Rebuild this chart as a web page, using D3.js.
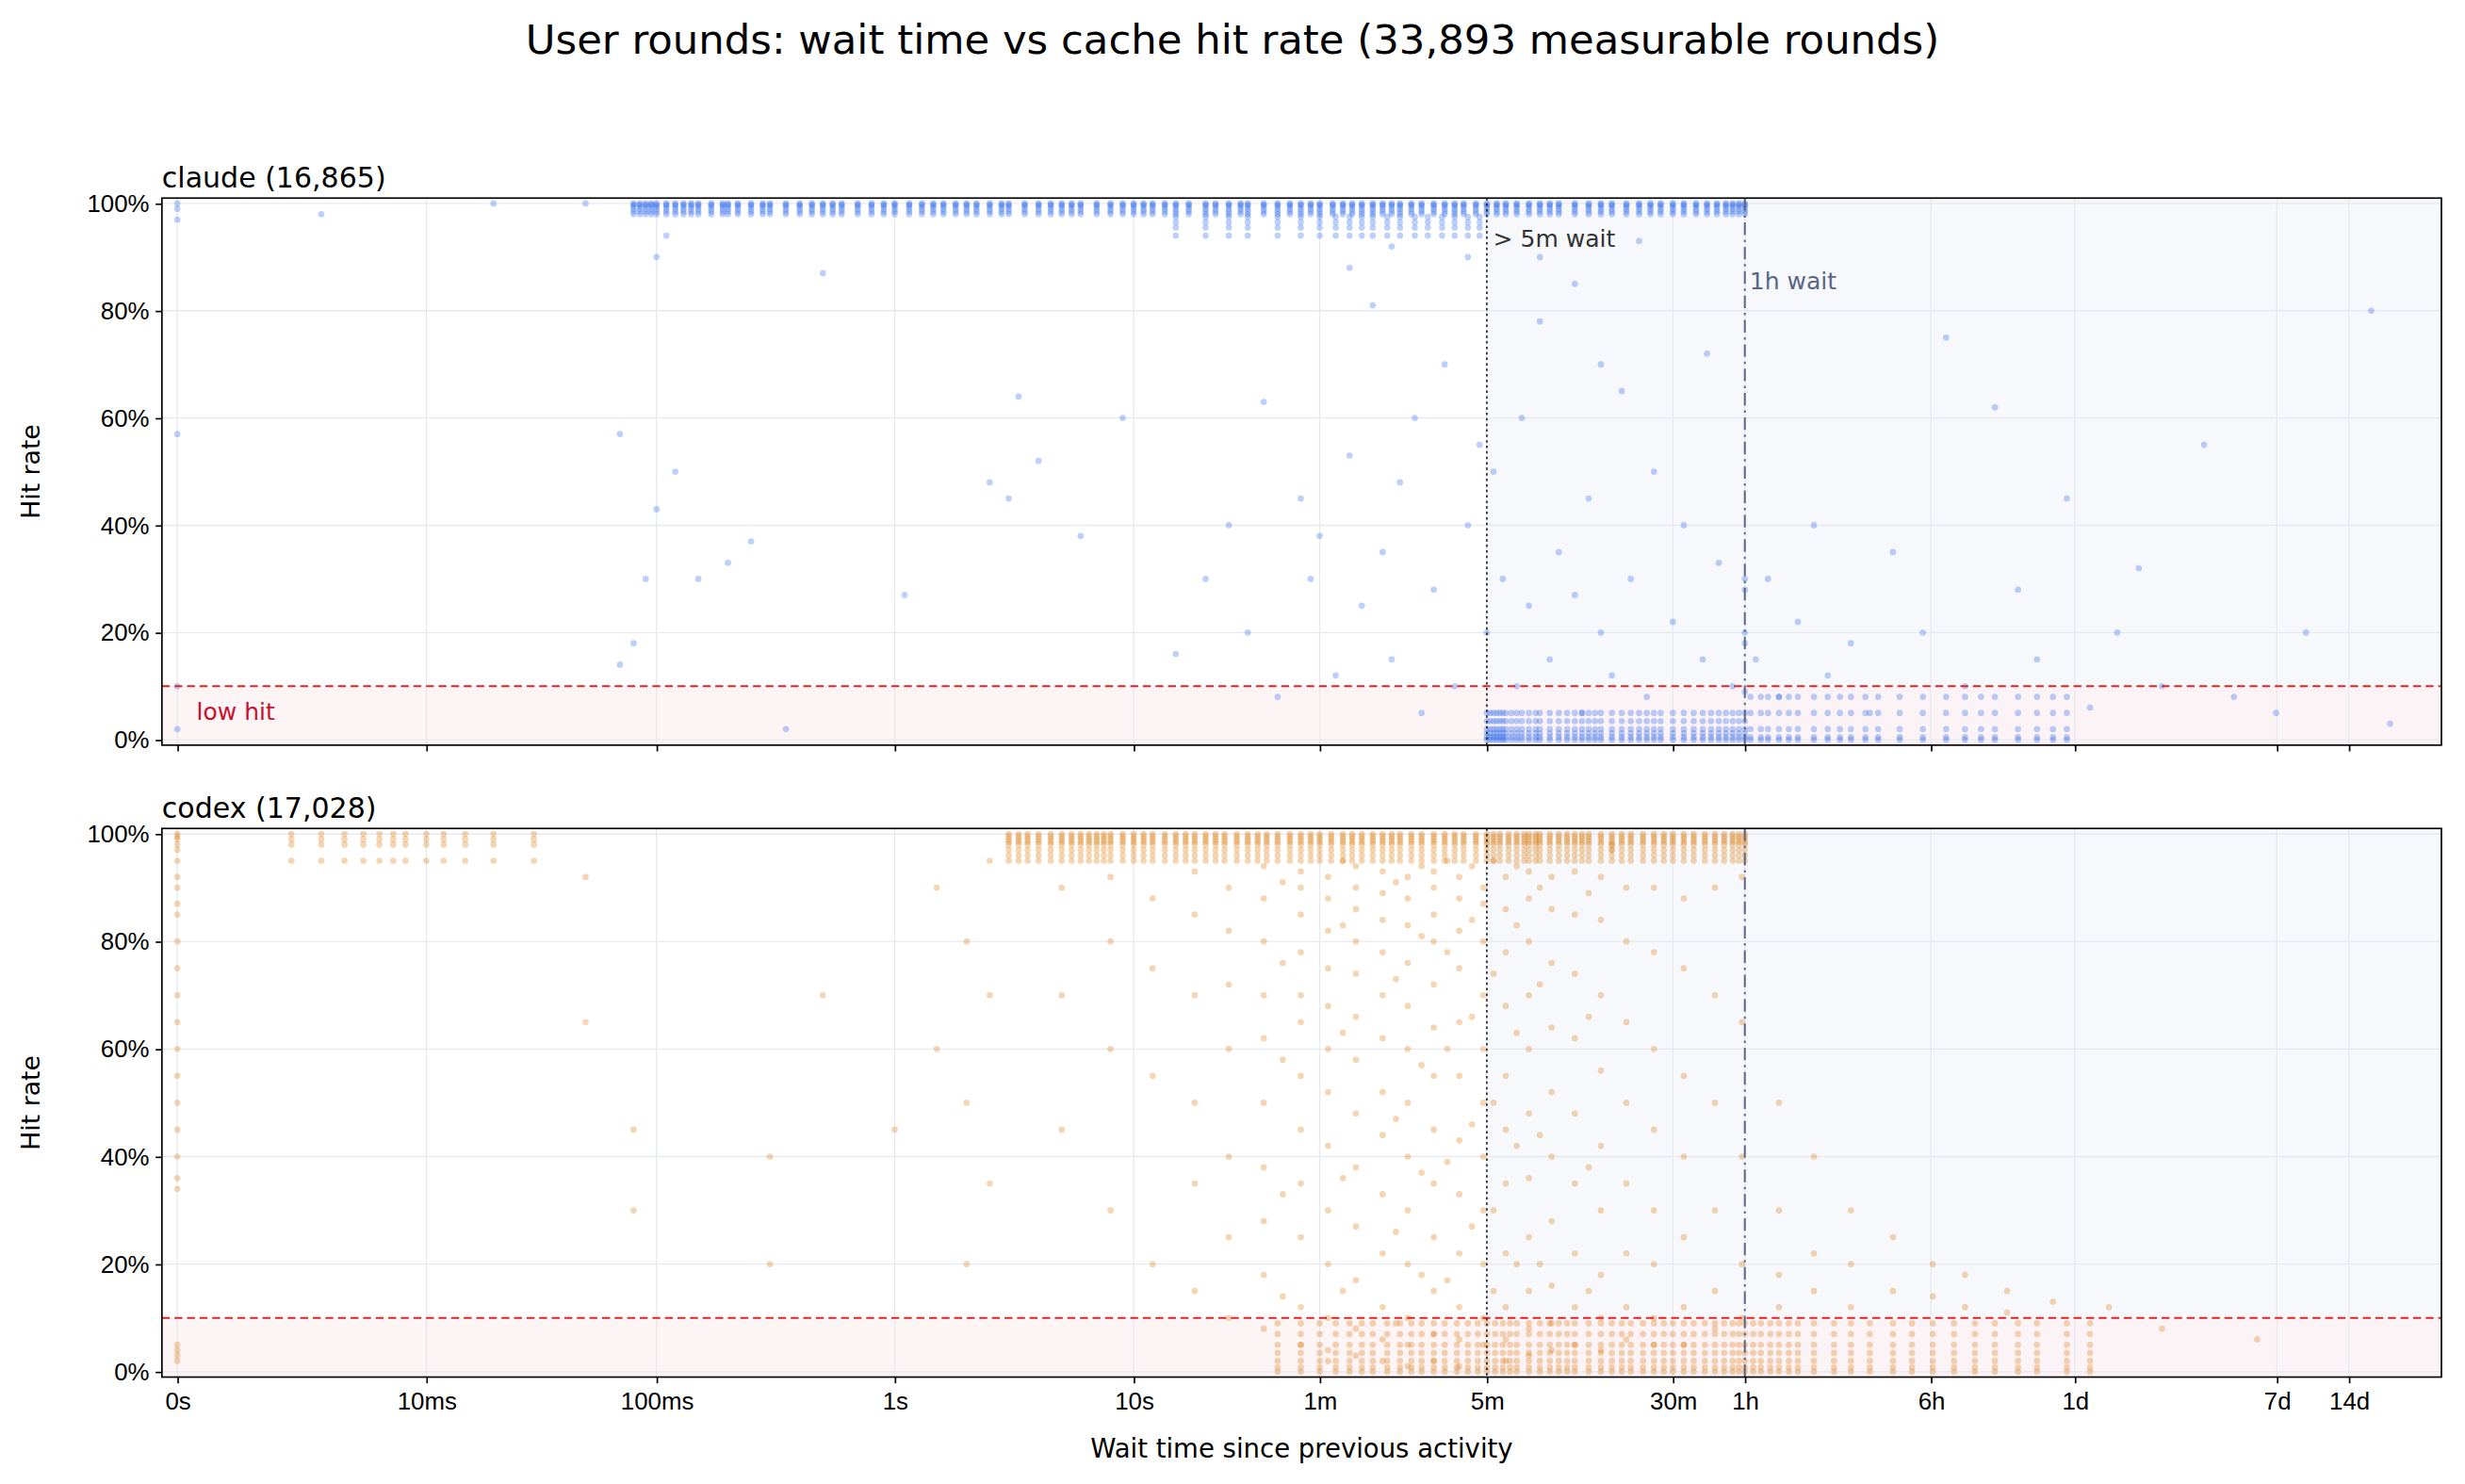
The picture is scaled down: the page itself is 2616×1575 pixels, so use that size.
<!DOCTYPE html>
<html><head><meta charset="utf-8">
<script src="https://cdn.jsdelivr.net/npm/d3@7"></script>
<style>body{margin:0;background:#fff}svg{display:block;font-family:"DejaVu Sans",sans-serif}</style>
</head><body><svg id="c" width="2616" height="1575" viewBox="0 0 1568 944"></svg>
<script>
// ---- data (wait in seconds, hit rate 0..1) ----
const tickVals = [0,0.01,0.1,1,10,60,300,1800,3600,21600,86400,604800,1209600];
const tickLabels = ["0s","10ms","100ms","1s","10s","1m","5m","30m","1h","6h","1d","7d","14d"];
const yTicks = [0,0.2,0.4,0.6,0.8,1.0];

const claudeBandWaits = [0.08,0.085,0.09,0.095,0.1,0.11,0.12,0.13,0.14,0.15,0.17,0.19,0.2,0.22,0.25,0.28,0.3,0.35,0.4,0.45,0.5,0.55,0.6,0.7,0.8,0.9,1,1.15,1.3,1.45,1.6,1.8,2,2.2,2.5,2.8,3,3.5,4,4.5,5,5.5,6,7,8,9,10,11,12,13.5,15,17,20,22,25,28,30,35,40,45,50,55,60,68,75,82,90,100,110,120,130,145,160,180,200,220,240,270,300,330,360,400,450,500,550,600,700,800,900,1000,1150,1300,1450,1600,1800,2000,2250,2500,2750,3000,3200,3400,3600];
const claudeBandHits = [1,0.998,0.995,0.99,0.985,0.98];
const claudeBandSpreadWaits = [15,20,25,30,40,50,60,70,80,90,100,115,130,150,170,195,220,250,280];
const claudeBandSpreadHits = [0.975,0.965,0.955,0.94];
const claudeLowWaits = [300,310,320,330,340,350,360,380,400,420,450,480,500,550,600,650,700,750,800,850,900,1000,1100,1200,1300,1400,1500,1600,1800,2000,2200,2400,2600,2800,3000,3200,3400,3600];
const claudeLowHits = [0,0.005,0.012,0.02,0.035,0.05];
const claudeLateWaits = [3800,4200,4500,5000,5500,6000,7000,8000,9000,10000,11500,13000,16000,20000,25000,30000,35000,40000,50000,60000,70000,80000];
const claudeLateHits = [0,0.005,0.02,0.05,0.08];
const claudeSparse = [[0,1],[0,0.99],[0,0.97],[0,0.57],[0,0.1],[0,0.02],[0.003,0.98],[0.02,1],[0.05,1],[0.07,0.57],[0.07,0.14],[0.08,0.18],[0.09,0.3],[0.1,0.43],[0.1,0.9],[0.11,0.94],[0.12,0.5],[0.15,0.3],[0.2,0.33],[0.25,0.37],[0.5,0.87],[0.35,0.02],[1.1,0.27],[2.5,0.48],[3,0.45],[3.3,0.64],[4,0.52],[6,0.38],[9,0.6],[15,0.16],[20,0.3],[25,0.4],[30,0.2],[35,0.63],[40,0.08],[50,0.45],[55,0.3],[60,0.38],[70,0.12],[80,0.53],[90,0.25],[100,0.81],[110,0.35],[120,0.15],[130,0.48],[150,0.6],[160,0.05],[180,0.28],[200,0.7],[220,0.1],[250,0.4],[280,0.55],[300,0.2],[320,0.5],[350,0.3],[400,0.1],[420,0.6],[450,0.25],[500,0.78],[550,0.15],[600,0.35],[700,0.27],[750,0.05],[800,0.45],[900,0.2],[1000,0.12],[1100,0.65],[1200,0.3],[1400,0.08],[1500,0.5],[1800,0.22],[2000,0.4],[2400,0.15],[2800,0.33],[3200,0.1],[3600,0.28],[3600,0.18],[3600,0.2],[3600,0.09],[3600,0.3],[4000,0.15],[4500,0.3],[5000,0.08],[6000,0.22],[7000,0.4],[8000,0.12],[10000,0.18],[12000,0.05],[15000,0.35],[20000,0.2],[25000,0.75],[30000,0.1],[40000,0.62],[50000,0.28],[60000,0.15],[80000,0.45],[100000,0.06],[130000,0.2],[160000,0.32],[200000,0.1],[300000,0.55],[400000,0.08],[600000,0.05],[800000,0.2],[1500000,0.8],[1800000,0.03],[500,0.9],[700,0.85],[900,0.7],[2500,0.72],[1300,0.93],[250,0.9],[120,0.92],[80,0.88]];

const codexZeroHits = [1,0.995,0.99,0.98,0.97,0.95,0.92,0.9,0.87,0.85,0.8,0.75,0.7,0.65,0.6,0.55,0.5,0.45,0.4,0.36,0.34,0.05,0.04,0.03,0.02];
const codexMsWaits = [0.002,0.003,0.004,0.005,0.006,0.007,0.008,0.01,0.012,0.015,0.02,0.03];
const codexMsHits = [1,0.99,0.98,0.95];
const codexBandWaits = [3,3.3,3.6,4,4.5,5,5.5,6,6.5,7,7.5,8,9,10,11,12,13.5,15,16.5,18,20,22,24,27,30,33,36,40,45,50,55,60,67,75,82,90,100,110,120,130,145,160,180,200,220,240,270,300,320,340,370,400,430,450,480,500,550,600,650,700,750,800,900,1000,1100,1200,1350,1500,1650,1800,2000,2200,2450,2700,2950,3200,3400,3600];
const codexBandHits = [1,0.995,0.99,0.985,0.98,0.97,0.96,0.95];
const codexSpread = [
 [5,[0.9,0.7,0.45]],[8,[0.92,0.8,0.6,0.3]],[12,[0.88,0.75,0.55,0.2]],[18,[0.93,0.85,0.7,0.5,0.35,0.15]],
 [25,[0.9,0.82,0.72,0.6,0.4,0.25,0.1]],[35,[0.94,0.88,0.8,0.7,0.62,0.5,0.38,0.28,0.18,0.08]],
 [50,[0.93,0.9,0.85,0.78,0.7,0.65,0.55,0.45,0.35,0.25,0.12,0.05]],[65,[0.92,0.88,0.82,0.75,0.68,0.6,0.52,0.42,0.3,0.2,0.1,0.04,0.02]],
 [85,[0.94,0.9,0.86,0.8,0.74,0.66,0.58,0.48,0.38,0.27,0.17,0.08,0.03]],[110,[0.93,0.89,0.84,0.78,0.7,0.62,0.52,0.44,0.33,0.22,0.12,0.06,0.02]],
 [140,[0.92,0.88,0.83,0.76,0.68,0.6,0.5,0.4,0.3,0.2,0.1,0.05,0.01]],[180,[0.93,0.9,0.85,0.8,0.72,0.64,0.55,0.45,0.35,0.25,0.15,0.07,0.02]],
 [230,[0.92,0.88,0.82,0.75,0.65,0.55,0.43,0.33,0.22,0.12,0.06,0.01]],[290,[0.9,0.87,0.8,0.7,0.6,0.5,0.4,0.3,0.2,0.1,0.05]],
 [360,[0.92,0.86,0.78,0.68,0.55,0.45,0.35,0.22,0.12,0.06,0.02]],[450,[0.93,0.88,0.8,0.7,0.6,0.48,0.36,0.25,0.15,0.08,0.03]],
 [560,[0.92,0.86,0.76,0.64,0.52,0.4,0.28,0.16,0.09,0.04]],[700,[0.93,0.85,0.74,0.62,0.48,0.35,0.22,0.12,0.05]],
 [900,[0.92,0.84,0.7,0.56,0.42,0.3,0.18,0.1,0.04]],[1150,[0.9,0.8,0.65,0.5,0.35,0.22,0.12,0.06]],
 [1500,[0.9,0.78,0.6,0.45,0.3,0.2,0.1,0.05]],[2000,[0.88,0.75,0.55,0.4,0.25,0.12,0.05]],[2700,[0.9,0.7,0.5,0.3,0.15,0.08]],
 [3500,[0.92,0.65,0.4,0.2,0.1]],[5000,[0.5,0.3,0.18,0.12]],[7000,[0.4,0.22,0.15]],[10000,[0.3,0.2,0.12]],[15000,[0.25,0.15]],
 [22000,[0.2,0.14]],[30000,[0.18,0.12]],[45000,[0.15,0.11]],[70000,[0.13]],[120000,[0.12]],[200000,[0.08]],[500000,[0.06]],[1000,[0.98,0.97]],
 [0.05,[0.92,0.65]],[0.08,[0.45,0.3]],[0.3,[0.4,0.2]],[0.5,[0.7]],[1,[0.45]],[1.5,[0.9,0.6]],[2,[0.8,0.5,0.2]],[2.5,[0.95,0.7,0.35]],
 [42,[0.91,0.76,0.58,0.33,0.14]],[75,[0.95,0.83,0.63,0.36,0.15]],[125,[0.91,0.73,0.47,0.26,0.09]],[160,[0.94,0.81,0.57,0.37,0.18]],
 [205,[0.95,0.78,0.6,0.39,0.17]],[260,[0.94,0.84,0.66,0.46,0.27]],[320,[0.95,0.74,0.5,0.3,0.15]],[400,[0.94,0.83,0.63,0.42,0.2]],[500,[0.9,0.72,0.44,0.2]],[800,[0.89,0.66,0.38,0.15]]];
const codexLowWaits = [40,50,60,70,80,90,100,115,130,145,160,180,200,225,250,275,300,325,350,375,400,450,500,550,600,650,700,800,900,1000,1100,1200,1350,1500,1650,1800,2000,2200,2450,2700,2950,3200,3400,3600,3900,4200,4600,5000,5500,6000,7000,8500,10000,12000,15000,18000,22000,27000,33000,40000,50000,60000,80000,100000];
const codexLowHits = [0,0.008,0.02,0.035,0.05,0.07,0.09];

// ---- build point lists ----
function cross(ws,hs){const o=[];ws.forEach(w=>hs.forEach(h=>o.push([w,h])));return o;}
const claudePts = [].concat(cross(claudeBandWaits,claudeBandHits),cross(claudeBandSpreadWaits,claudeBandSpreadHits),
  cross(claudeLowWaits,claudeLowHits),cross(claudeLateWaits,claudeLateHits),claudeSparse);
const codexPts = [].concat(codexZeroHits.map(h=>[0,h]),cross(codexMsWaits,codexMsHits),cross(codexBandWaits,codexBandHits),
  ...codexSpread.map(([w,hs])=>hs.map(h=>[w,h])),cross(codexLowWaits,codexLowHits));

const svg = d3.select("#c");
const L=103,R=1553;
const x = d3.scaleSymlog().constant(0.001).domain([-0.00016,2.95e6]).range([L,R]);
svg.append("text").attr("x",784).attr("y",34).attr("text-anchor","middle").attr("font-size",26).text("User rounds: wait time vs cache hit rate (33,893 measurable rounds)");

const panels=[{name:"claude (16,865)",top:126,bot:474,pts:claudePts,color:"#2563eb",ann:true},
              {name:"codex (17,028)",top:527,bot:876,pts:codexPts,color:"#d97706",ann:false}];
panels.forEach(p=>{
  const y=d3.scaleLinear().domain([-0.01,1.01]).range([p.bot,p.top]);
  const g=svg.append("g");
  g.append("rect").attr("x",x(300)).attr("y",p.top).attr("width",R-x(300)).attr("height",p.bot-p.top).attr("fill","#f6f8fb");
  g.append("rect").attr("x",L).attr("y",y(0.1)).attr("width",R-L).attr("height",p.bot-y(0.1)).attr("fill","#fdf2f4").attr("opacity",0.85);
  tickVals.forEach(t=>g.append("line").attr("x1",x(t)).attr("x2",x(t)).attr("y1",p.top).attr("y2",p.bot).attr("stroke","#e6e9f0").attr("stroke-width",0.8));
  yTicks.forEach(t=>g.append("line").attr("x1",L).attr("x2",R).attr("y1",y(t)).attr("y2",y(t)).attr("stroke","#e6e9f0").attr("stroke-width",0.8));
  g.selectAll("circle").data(p.pts).join("circle").attr("cx",d=>x(d[0])).attr("cy",d=>y(d[1])).attr("r",2)
    .attr("fill",p.color).attr("fill-opacity",0.3);
  g.append("line").attr("x1",L).attr("x2",R).attr("y1",y(0.1)).attr("y2",y(0.1)).attr("stroke","#dc2626").attr("stroke-width",1.3).attr("stroke-dasharray","5,3");
  g.append("line").attr("x1",x(300)).attr("x2",x(300)).attr("y1",p.top).attr("y2",p.bot).attr("stroke","#222").attr("stroke-width",1).attr("stroke-dasharray","1.5,2");
  g.append("line").attr("x1",x(3600)).attr("x2",x(3600)).attr("y1",p.top).attr("y2",p.bot).attr("stroke","#5b6785").attr("stroke-width",1.2).attr("stroke-dasharray","8,3,1.5,3");
  g.append("rect").attr("x",L).attr("y",p.top).attr("width",R-L).attr("height",p.bot-p.top).attr("fill","none").attr("stroke","#000").attr("stroke-width",1);
  const ya=d3.axisLeft(y).tickValues(yTicks).tickFormat(d3.format(".0%")).tickSize(4).tickPadding(4);
  const ay=g.append("g").attr("transform",`translate(${L},0)`).call(ya);
  ay.select(".domain").remove(); ay.selectAll("text").attr("font-size",15.5).attr("fill","#000");
  const xa=d3.axisBottom(x).tickValues(tickVals).tickFormat(p.ann?"":(d,i)=>tickLabels[i]).tickSize(4);
  const ax=g.append("g").attr("transform",`translate(0,${p.bot})`).call(xa);
  ax.select(".domain").remove(); ax.selectAll("text").attr("font-size",15.5).attr("fill","#000").attr("dy","0.9em");
  g.append("text").attr("x",L).attr("y",p.top-7).attr("font-size",18).text(p.name);
  g.append("text").attr("transform",`translate(25,${(p.top+p.bot)/2}) rotate(-90)`).attr("text-anchor","middle").attr("font-size",16).text("Hit rate");
  if(p.ann){
    g.append("text").attr("x",x(300)+4).attr("y",157).attr("font-size",15).attr("fill","#333").text("> 5m wait");
    g.append("text").attr("x",x(3600)+3).attr("y",184).attr("font-size",15).attr("fill","#5b6785").text("1h wait");
    g.append("text").attr("x",125).attr("y",458).attr("font-size",15).attr("fill","#c8102e").text("low hit");
  }
});
svg.append("text").attr("x",828).attr("y",927).attr("text-anchor","middle").attr("font-size",16.5).text("Wait time since previous activity");
</script></body></html>
